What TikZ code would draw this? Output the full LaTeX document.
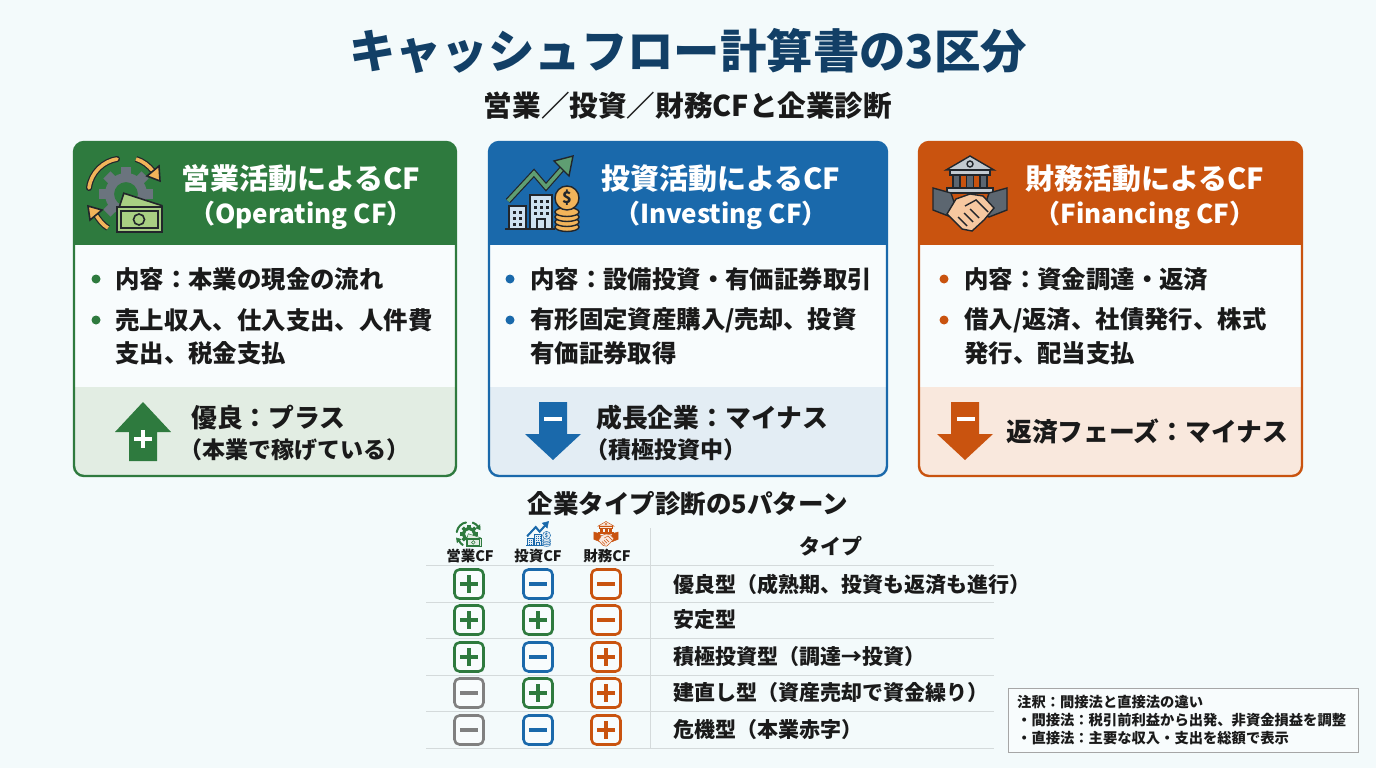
\documentclass[tikz,border=0pt]{standalone}
\usepackage{fontspec}
\setmainfont{Noto Sans CJK JP}
\usetikzlibrary{calc}

\definecolor{pagebg}{HTML}{F3FAFB}
\definecolor{bodybg}{HTML}{F8FCFD}
\definecolor{navy}{HTML}{123F66}
\definecolor{ink}{HTML}{1A1A1A}
\definecolor{opgreen}{HTML}{2E7A3E}
\definecolor{opband}{HTML}{E2EDE3}
\definecolor{invblue}{HTML}{1A69AB}
\definecolor{invband}{HTML}{E3EDF4}
\definecolor{finred}{HTML}{C9530F}
\definecolor{finband}{HTML}{F9E8DD}
\definecolor{signgray}{HTML}{808080}
\definecolor{iconline}{HTML}{22262B}
\definecolor{rulegray}{HTML}{D4DADB}
\definecolor{gearcol}{HTML}{6B747E}
\definecolor{arrowcol}{HTML}{F2B45A}
\definecolor{billcol}{HTML}{A8CF83}
\definecolor{upcol}{HTML}{5F9E72}
\definecolor{towercol}{HTML}{CFE2F0}
\definecolor{metalcol}{HTML}{C3CAD0}
\definecolor{sleevecol}{HTML}{5C6670}
\definecolor{handcol}{HTML}{F6C8A0}

\newcommand{\fsz}[1]{\fontsize{#1}{#1}\selectfont}

\tikzset{
    headtext/.style={text=white,inner sep=0pt,font=\fsz{29}\bfseries},
    subhead/.style={text=white,inner sep=0pt,font=\fsz{26}\bfseries},
    bodytext/.style={text=ink,anchor=west,inner sep=0pt,font=\fsz{24.4}\bfseries},
    verdict/.style={text=ink,anchor=west,inner sep=0pt,font=\fsz{25.8}\bfseries},
    verdictsub/.style={text=ink,anchor=west,inner sep=0pt,font=\fsz{23}\bfseries},
    colhead/.style={text=ink,inner sep=0pt,font=\fsz{14.5}\bfseries},
    typetext/.style={text=ink,anchor=west,inner sep=0pt,font=\fsz{21}\bfseries},
    notetext/.style={text=ink,anchor=west,inner sep=0pt,font=\fsz{14.3}\bfseries},
    signframe/.style={line width=2.6pt,rounded corners=5pt,fill=bodybg},
    signbar/.style={line width=4pt},
    rowrule/.style={rulegray,line width=1pt},
}

% card: x1, x2, main colour, band colour
\newcommand{\cfcard}[4]{
    \begin{scope}
        \clip [rounded corners=10pt] (#1,142) rectangle (#2,476);
        \fill [bodybg] (#1,142) rectangle (#2,476);
        \fill [#3] (#1,142) rectangle (#2,245);
        \fill [#4] (#1,387) rectangle (#2,476);
    \end{scope}
    \draw [#3,line width=2.4pt,rounded corners=10pt] (#1,142) rectangle (#2,476);
}

% sign boxes of the table: x, y, colour
\newcommand{\plusbox}[3]{
    \draw [signframe,draw=#3] (#1-14.5,#2-14.5) rectangle (#1+14.5,#2+14.5);
    \draw [signbar,#3] (#1-9,#2) -- (#1+9,#2);
    \draw [signbar,#3] (#1,#2-9) -- (#1,#2+9);
}
\newcommand{\minusbox}[3]{
    \draw [signframe,draw=#3] (#1-14.5,#2-14.5) rectangle (#1+14.5,#2+14.5);
    \draw [signbar,#3] (#1-9,#2) -- (#1+9,#2);
}

% gear and bill: x, y, scale, gear, arrows, bill, line
\newcommand{\opicon}[7]{
    \begin{scope}[shift={(#1,#2)},scale=#3,line width=1.6pt*#3,draw=#7]
        \foreach \a in {0,45,...,315}
            \fill [#4,rotate=\a] (-5,-27) rectangle (5,-16);
        \fill [#4,even odd rule] (0,0) circle (21) (0,0) circle (12);
        \draw [#7,line width=6pt*#3,line cap=round] (-37,-6) .. controls (-35,-22) and (-22,-33) .. (-9,-35);
        \draw [#5,line width=3.6pt*#3,line cap=round] (-37,-6) .. controls (-35,-22) and (-22,-33) .. (-9,-35);
        \draw [#7,line width=6pt*#3] (10,-35) .. controls (17,-33) and (23,-28) .. (27,-23);
        \draw [#5,line width=3.6pt*#3] (10,-35) .. controls (17,-33) and (23,-28) .. (27,-23);
        \filldraw [fill=#5] (34,-13) -- (33,-28) -- (21,-18) -- cycle;
        \draw [#7,line width=6pt*#3] (-18,34) .. controls (-23,31) and (-27,26) .. (-30,21);
        \draw [#5,line width=3.6pt*#3] (-18,34) .. controls (-23,31) and (-27,26) .. (-30,21);
        \filldraw [fill=#5] (-38,12) -- (-24,16) -- (-36,26) -- cycle;
        \filldraw [fill=#6,rotate around={-18:(10,20)}] (-8,4) rectangle (32,24);
        \filldraw [fill=#6] (-9,13) rectangle (36,38);
        \draw (-5,17) rectangle (32,34);
        \filldraw [fill=#6] (13,25.5) circle (5.5);
    \end{scope}
}

% growth chart: x, y, scale, arrow, buildings, coins, line
\newcommand{\growicon}[7]{
    \begin{scope}[shift={(#1,#2)},scale=#3,line width=1.4pt*#3,draw=#7]
        \draw [#7,line width=6pt*#3] (-33,7) -- (-7,-21) -- (5,-7) -- (27,-32);
        \draw [#4,line width=3.6pt*#3] (-33,7) -- (-7,-21) -- (5,-7) -- (27,-32);
        \filldraw [fill=#4] (32,-38) -- (13,-33) -- (28,-18) -- cycle;
        \filldraw [fill=#5] (-32,12) rectangle (-15,35);
        \filldraw [fill=#5] (-11,1) rectangle (11,35);
        \draw (-36,35) -- (14,35);
        \foreach \x in {-28,-22}
            \foreach \y in {17,23,29}
                \fill [#7] (\x,\y) rectangle ++(3,3);
        \foreach \x in {-7,-1,5}
            \foreach \y in {6,12,18}
                \fill [#7] (\x,\y) rectangle ++(3,3);
        \draw (-4,35) -- (-4,25) -- (4,25) -- (4,35);
        \foreach \y in {33,28,23,18}
            \filldraw [fill=#6] (26,\y) ellipse (12 and 4.5);
        \filldraw [fill=#6] (26,4) circle (12);
        \pgfmathsetmacro{\dollarsize}{16*#3}
        \node [text=#7,inner sep=0pt,font=\fsz{\dollarsize}\bfseries] (dollar#1) at (26,4) {\$};
    \end{scope}
}

% bank and handshake: x, y, scale, metal, sleeve, hand, line
\newcommand{\bankicon}[7]{
    \begin{scope}[shift={(#1,#2)},scale=#3,line width=1.4pt*#3,draw=#7]
        \filldraw [fill=#4] (0,-38) -- (-24,-24) -- (24,-24) -- cycle;
        \draw (0,-30) circle (3);
        \filldraw [fill=#4] (-20,-24) rectangle (20,-19);
        \foreach \x in {-17,-3.5,10}
            \filldraw [fill=#5] (\x,-19) rectangle ++(7,13);
        \filldraw [fill=#4] (-23,-6) rectangle (23,-1);
        \filldraw [fill=#5] (-37,-6) -- (-19,-1) -- (-12,20) -- (-19,23) -- (-37,16) -- cycle;
        \filldraw [fill=#5] (37,-6) -- (19,-1) -- (12,20) -- (19,23) -- (37,16) -- cycle;
        \filldraw [fill=#6] (-14,5) -- (0,0) -- (13,2) -- (24,14) -- (14,26) -- (2,37) -- (-8,35) -- (-23,20) -- cycle;
        \draw (-5,12) -- (6,6) -- (18,18);
        \draw (-12,23) -- (-3,32);
        \draw (-6,19) -- (3,28);
        \draw (0,15) -- (9,24);
    \end{scope}
}

\begin{document}
\begin{tikzpicture}[x=1pt,y=-1pt]
    \useasboundingbox (0,0) rectangle (1376,768);
    \fill [pagebg] (0,0) rectangle (1376,768);

    \node [text=navy,inner sep=0pt,font=\fsz{46.4}\bfseries] (title) at (688,51) {キャッシュフロー計算書の3区分};
    \node [text=ink,inner sep=0pt,font=\fsz{28.6}\bfseries] (subtitle) at (688,106) {営業／投資／財務CFと企業診断};

    % three cards
    \cfcard{74}{456}{opgreen}{opband}
    \cfcard{489}{887}{invblue}{invband}
    \cfcard{919}{1302}{finred}{finband}

    % operating
    \opicon{126}{194}{1}{gearcol}{arrowcol}{billcol}{iconline}
    \node [headtext] (ophead) at (301,179) {営業活動によるCF};
    \node [subhead] (opsub) at (301,215) {（Operating CF）};
    \fill [opgreen] (96,279) circle (4.5);
    \fill [opgreen] (96,320) circle (4.5);
    \node [bodytext] (opline1) at (115,279) {内容：本業の現金の流れ};
    \node [bodytext] (opline2) at (115,320) {売上収入、仕入支出、人件費};
    \node [bodytext] (opline3) at (115,353) {支出、税金支払};
    \fill [opgreen] (143,402) -- (171,432) -- (157,432) -- (157,461) -- (129,461) -- (129,432) -- (115,432) -- cycle;
    \draw [white,line width=3.2pt] (134,439) -- (152,439);
    \draw [white,line width=3.2pt] (143,430) -- (143,448);
    \node [verdict] (opverdict) at (191,418) {優良：プラス};
    \node [verdictsub] (opnote) at (179,450) {（本業で稼げている）};

    % investing
    \growicon{541}{194}{1}{upcol}{towercol}{arrowcol}{iconline}
    \node [headtext] (invhead) at (721,179) {投資活動によるCF};
    \node [subhead] (invsub) at (721,215) {（Investing CF）};
    \fill [invblue] (510,279) circle (4.5);
    \fill [invblue] (510,320) circle (4.5);
    \node [bodytext] (invline1) at (530,279) {内容：設備投資・有価証券取引};
    \node [bodytext] (invline2) at (530,320) {有形固定資産購入/売却、投資};
    \node [bodytext] (invline3) at (530,353) {有価証券取得};
    \fill [invblue] (539,402) -- (567,402) -- (567,434) -- (581,434) -- (553,460) -- (525,434) -- (539,434) -- cycle;
    \draw [white,line width=3.2pt] (544,419) -- (562,419);
    \node [verdict] (invverdict) at (596,418) {成長企業：マイナス};
    \node [verdictsub] (invnote) at (585,450) {（積極投資中）};

    % financing
    \bankicon{970}{194}{1}{metalcol}{sleevecol}{handcol}{iconline}
    \node [headtext] (finhead) at (1145,179) {財務活動によるCF};
    \node [subhead] (finsub) at (1145,215) {（Financing CF）};
    \fill [finred] (944,279) circle (4.5);
    \fill [finred] (944,320) circle (4.5);
    \node [bodytext] (finline1) at (964,279) {内容：資金調達・返済};
    \node [bodytext] (finline2) at (964,320) {借入/返済、社債発行、株式};
    \node [bodytext] (finline3) at (964,353) {発行、配当支払};
    \fill [finred] (951,402) -- (979,402) -- (979,434) -- (993,434) -- (965,460) -- (937,434) -- (951,434) -- cycle;
    \draw [white,line width=3.2pt] (957,419) -- (975,419);
    \node [verdict] (finverdict) at (1006,432) {返済フェーズ：マイナス};

    % table
    \node [text=ink,inner sep=0pt,font=\fsz{25.5}\bfseries] (tabletitle) at (688,504) {企業タイプ診断の5パターン};
    \opicon{469}{534}{0.33}{opgreen}{opgreen}{opband}{opgreen}
    \growicon{538}{534}{0.33}{invblue}{invband}{invband}{invblue}
    \bankicon{606}{534}{0.33}{finband}{finred}{finband}{finred}
    \node [colhead] (colop) at (470,556) {営業CF};
    \node [colhead] (colinv) at (538,556) {投資CF};
    \node [colhead] (colfin) at (607,556) {財務CF};
    \node [text=ink,inner sep=0pt,font=\fsz{21}\bfseries] (coltype) at (831,546) {タイプ};

    \draw [rowrule] (650,528) -- (650,748);
    \foreach \y in {565,602,638,675,711,748}
        \draw [rowrule] (426,\y) -- (994,\y);

    \plusbox{469}{584}{opgreen}
    \minusbox{538}{584}{invblue}
    \minusbox{606}{584}{finred}
    \node [typetext] (type1) at (673,584) {優良型（成熟期、投資も返済も進行）};

    \plusbox{469}{620}{opgreen}
    \plusbox{538}{620}{opgreen}
    \minusbox{606}{620}{finred}
    \node [typetext] (type2) at (673,620) {安定型};

    \plusbox{469}{657}{opgreen}
    \minusbox{538}{657}{invblue}
    \plusbox{606}{657}{finred}
    \node [typetext] (type3) at (673,657) {積極投資型（調達→投資）};

    \minusbox{469}{693}{signgray}
    \plusbox{538}{693}{opgreen}
    \plusbox{606}{693}{finred}
    \node [typetext] (type4) at (673,693) {建直し型（資産売却で資金繰り）};

    \minusbox{469}{730}{signgray}
    \minusbox{538}{730}{invblue}
    \plusbox{606}{730}{finred}
    \node [typetext] (type5) at (673,730) {危機型（本業赤字）};

    % note
    \draw [gray!70,line width=1pt,fill=bodybg] (1008,688) rectangle (1358,752);
    \node [notetext] (note1) at (1017,702) {注釈：間接法と直接法の違い};
    \node [notetext] (note2) at (1017,720) {・間接法：税引前利益から出発、非資金損益を調整};
    \node [notetext] (note3) at (1017,738) {・直接法：主要な収入・支出を総額で表示};
\end{tikzpicture}
\end{document}
